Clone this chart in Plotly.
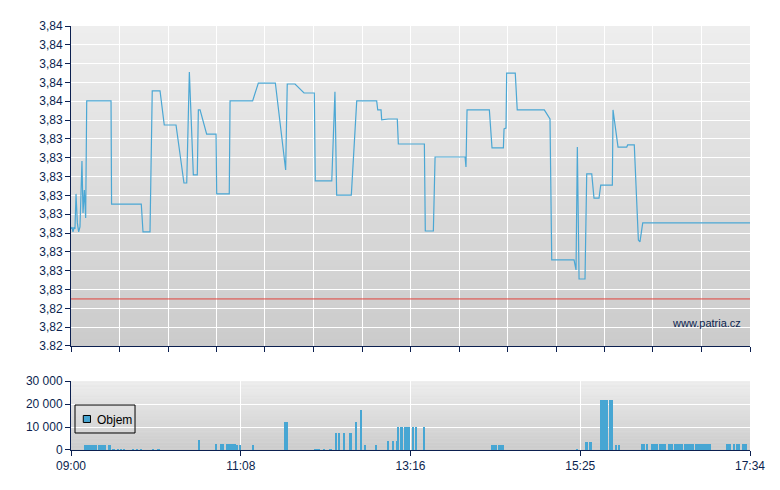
import plotly.graph_objects as go
import pandas as pd

# ---------------- data ----------------
session_date = "2024-01-02"
open_time = "09:00"
session_minutes = 514          # 09:00 -> 17:34
prev_close = 3.825

# price line: minutes after open, price
price_min = [0, 0.8, 1.5, 2.3, 3.0, 3.8, 4.8, 5.8, 6.8, 8.3, 9.1, 10.1, 11.1, 11.9,
             30.3, 30.7, 53.2, 54.5, 59.8, 61.5, 67.4, 70.6, 79.5, 85.5, 87.6, 89.6,
             92.6, 95.6, 96.4, 97.7, 102.7, 109.8, 110.3, 119.8, 120.4, 137.5, 141.8,
             154.7, 162.5, 163.7, 169.6, 176.4, 184.2, 184.9, 197.4, 199.8, 201.1,
             212.2, 216.3, 231.4, 232.2, 234.7, 235.2, 240.2, 247.0, 247.8, 267.5,
             268.2, 274.3, 275.6, 298.3, 299.0, 299.8, 316.7, 318.7, 327.3, 327.8,
             329.3, 329.8, 336.3, 337.8, 358.3, 362.6, 363.9, 380.8, 382.3, 383.3,
             384.6, 389.1, 390.4, 394.2, 395.9, 399.7, 401.0, 409.8, 410.3, 414.1,
             420.7, 421.4, 426.4, 429.5, 430.7, 432.8, 514]
price = [3.82872, 3.82882, 3.82856, 3.82882, 3.82872, 3.83058, 3.82904, 3.82856,
         3.82882, 3.83233, 3.82957, 3.83079, 3.82930, 3.83552, 3.83552, 3.83004,
         3.83004, 3.82856, 3.82856, 3.83605, 3.83605, 3.83424, 3.83424, 3.83116,
         3.83116, 3.83706, 3.83159, 3.83159, 3.83504, 3.83504, 3.83376, 3.83376,
         3.83058, 3.83058, 3.83552, 3.83552, 3.83647, 3.83647, 3.83185, 3.83642,
         3.83642, 3.83594, 3.83594, 3.83127, 3.83127, 3.83600, 3.83052, 3.83052,
         3.83552, 3.83552, 3.83504, 3.83504, 3.83451, 3.83456, 3.83456, 3.83323,
         3.83323, 3.82861, 3.82861, 3.83254, 3.83254, 3.83201, 3.83504, 3.83504,
         3.83302, 3.83302, 3.83403, 3.83408, 3.83700, 3.83700, 3.83504, 3.83504,
         3.83456, 3.82707, 3.82707, 3.82654, 3.83307, 3.82606, 3.82606, 3.83164,
         3.83164, 3.83036, 3.83036, 3.83105, 3.83105, 3.83504, 3.83307, 3.83307,
         3.83318, 3.83318, 3.82813, 3.82803, 3.82904, 3.82904]

# volume bars: minute after open, volume
vol_min = [11, 12, 14, 15, 16, 17, 18, 19, 21, 22, 23, 24, 26, 29, 30,
           32, 33, 36, 38, 40, 47, 50, 53, 62, 66, 67,
           97, 110, 114, 115, 118, 119, 120, 121, 122, 123, 124, 126, 128, 138,
           162, 164, 185, 186, 188, 192, 196, 197,
           201, 203, 207, 211, 212, 216, 220, 223, 231, 240, 244, 247,
           248, 250, 251, 253, 254, 255, 256, 259, 261, 267,
           319, 320, 322, 324, 325, 326, 327, 383, 390, 391, 393, 394,
           401, 402, 403, 404, 406, 408, 409, 410, 413, 415,
           432, 434, 436, 440, 441, 442, 443, 444, 446, 447, 448, 449, 450,
           453, 454, 455, 457, 458, 459, 460, 461, 462, 463, 465, 466, 467,
           469, 470, 471, 473, 474, 475, 476, 477, 478, 479, 481, 482, 484,
           497, 498, 499, 502, 504, 505, 506, 509, 510, 511, 513]
vol = [2200, 2200, 2200, 2200, 2200, 2200, 2200, 2200, 2200, 2200, 2200, 2200, 2200, 2200, 2200,
       400, 400, 400, 400, 400, 400, 400, 400, 400, 400, 400,
       4300, 2600, 2600, 2600, 2400, 2400, 2400, 2400, 2400, 2400, 2400, 2200, 2200, 2200,
       12200, 12200, 400, 400, 400, 400, 400, 400,
       7400, 7400, 7400, 7400, 7400, 12200, 17400, 2200, 2200, 3900, 3900, 3900,
       9850, 9850, 9850, 9850, 9850, 9850, 9850, 9850, 9850, 9850,
       2200, 2200, 2200, 2200, 2200, 2200, 2200, 400, 3500, 3500, 3500, 3500,
       21700, 21700, 21700, 21700, 21700, 21700, 21700, 21700, 2200, 2200,
       2500, 2500, 2500, 2500, 2500, 2500, 2500, 2500, 2500, 2500, 2500, 2500, 2500,
       2500, 2500, 2500, 2500, 2500, 2500, 2500, 2500, 2500, 2500, 2500, 2500, 2500,
       2500, 2500, 2500, 2500, 2500, 2500, 2500, 2500, 2500, 2500, 2500, 2500, 2500,
       2500, 2500, 2500, 2500, 2500, 2500, 2500, 2500, 2500, 2500]

y_labels = ["3.82", "3,82", "3,82", "3,83", "3,83", "3,83", "3,83", "3,83", "3,83",
            "3,83", "3,83", "3,83", "3,83", "3,84", "3,84", "3,84", "3,84", "3,84"]
vol_ticks = [0, 10000, 20000, 30000]
vol_labels = ["0", "10 000", "20 000", "30 000"]
x_labels = ["09:00", "11:08", "13:16", "15:25", "17:34"]
legend_label = "Objem"

# ---------------- figure ----------------
NAVY = "#0b1f4f"
BAR = "#47a6d3"
FONT = "Liberation Sans, Arial, sans-serif"

base = pd.Timestamp(f"{session_date} {open_time}")
end = base + pd.Timedelta(minutes=session_minutes)
price_t = [base + pd.Timedelta(minutes=m) for m in price_min]
vol_t = [base + pd.Timedelta(minutes=m) for m in vol_min]

grid_t = [base + pd.Timedelta(seconds=round(session_minutes * 60 * i / 14)) for i in range(15)]
lab_t = [base + pd.Timedelta(seconds=round(session_minutes * 60 * i / 4)) for i in range(5)]
y_lo = 3.8225
y_ticks = [round(y_lo + 0.001 * i, 4) for i in range(len(y_labels))]

fig = go.Figure()
fig.add_trace(go.Scatter(x=price_t, y=price, mode="lines",
                         line=dict(color="#4ba7d4", width=1.2),
                         xaxis="x", yaxis="y", showlegend=False, hoverinfo="skip"))
fig.add_trace(go.Bar(x=vol_t, y=vol, width=60000,
                     marker=dict(color=BAR, line=dict(width=0)),
                     name=legend_label, xaxis="x2", yaxis="y2", showlegend=False,
                     hoverinfo="skip"))

# gradient backgrounds
shapes = []
N = 48
def band_color(f):
    lo, hi = 0xcb, 0xee
    v = int(round(lo + (hi - lo) * f))
    return f"rgb({v},{v},{v})"
for xr, yr in (("x domain", "y domain"), ("x2 domain", "y2 domain")):
    for i in range(N):
        shapes.append(dict(type="rect", xref=xr, yref=yr, x0=0, x1=1,
                           y0=i / N, y1=min(1, (i + 1) / N + 0.002), layer="below",
                           line=dict(width=0), fillcolor=band_color((i + 0.5) / N)))
# previous close line
shapes.append(dict(type="line", xref="x domain", yref="y", x0=0, x1=1,
                   y0=prev_close, y1=prev_close, layer="above",
                   line=dict(color="#e0403a", width=1)))
# legend box (drawn manually to match the compact original)
shapes.append(dict(type="rect", xref="paper", yref="paper",
                   x0=0.0059, x1=0.0943, y0=0.0401, y1=0.1061, layer="above",
                   line=dict(color="black", width=1), fillcolor="rgba(0,0,0,0)"))
shapes.append(dict(type="rect", xref="paper", yref="paper",
                   x0=0.0181, x1=0.0287, y0=0.0649, y1=0.0814, layer="above",
                   line=dict(color="black", width=1), fillcolor=BAR))

axis_common = dict(showline=True, linecolor=NAVY, linewidth=1, ticks="outside",
                   ticklen=5, tickcolor=NAVY, tickwidth=1, zeroline=False,
                   gridcolor="white", gridwidth=1,
                   tickfont=dict(family=FONT, size=12, color=NAVY))

# page body has an 8px margin: shrink the figure so the plot sits where the original does
fig.update_layout(
    width=772, height=482,
    margin=dict(l=63, r=30, t=18, b=40),
    paper_bgcolor="white", plot_bgcolor="#dddddd",
    font=dict(family=FONT, size=12, color=NAVY),
    shapes=shapes,
    bargap=0,
    showlegend=False,
    xaxis=dict(domain=[0, 1], anchor="y", type="date", range=[base, end],
               tickmode="array", tickvals=grid_t, showticklabels=False,
               showgrid=True, **axis_common),
    yaxis=dict(domain=[0.2453, 1], anchor="x", range=[y_lo, y_lo + 0.017],
               tickmode="array", tickvals=y_ticks, ticktext=y_labels,
               showgrid=True, **axis_common),
    xaxis2=dict(domain=[0, 1], anchor="y2", type="date", range=[base, end],
                tickmode="array", tickvals=lab_t, ticktext=x_labels,
                showgrid=True, **axis_common),
    yaxis2=dict(domain=[0, 0.1627], anchor="x2", range=[0, 30000],
                tickmode="array", tickvals=vol_ticks, ticktext=vol_labels,
                showgrid=True, **axis_common),
    annotations=[
        dict(text="www.patria.cz", xref="paper", yref="paper",
             x=0.99, y=0.2995, xanchor="right", yanchor="middle",
             showarrow=False, font=dict(family=FONT, size=11, color=NAVY)),
        dict(text=legend_label, xref="paper", yref="paper",
             x=0.0353, y=0.0708, xanchor="left", yanchor="middle",
             showarrow=False, font=dict(family=FONT, size=12, color="black")),
    ],
)

fig.write_html("out.html")
